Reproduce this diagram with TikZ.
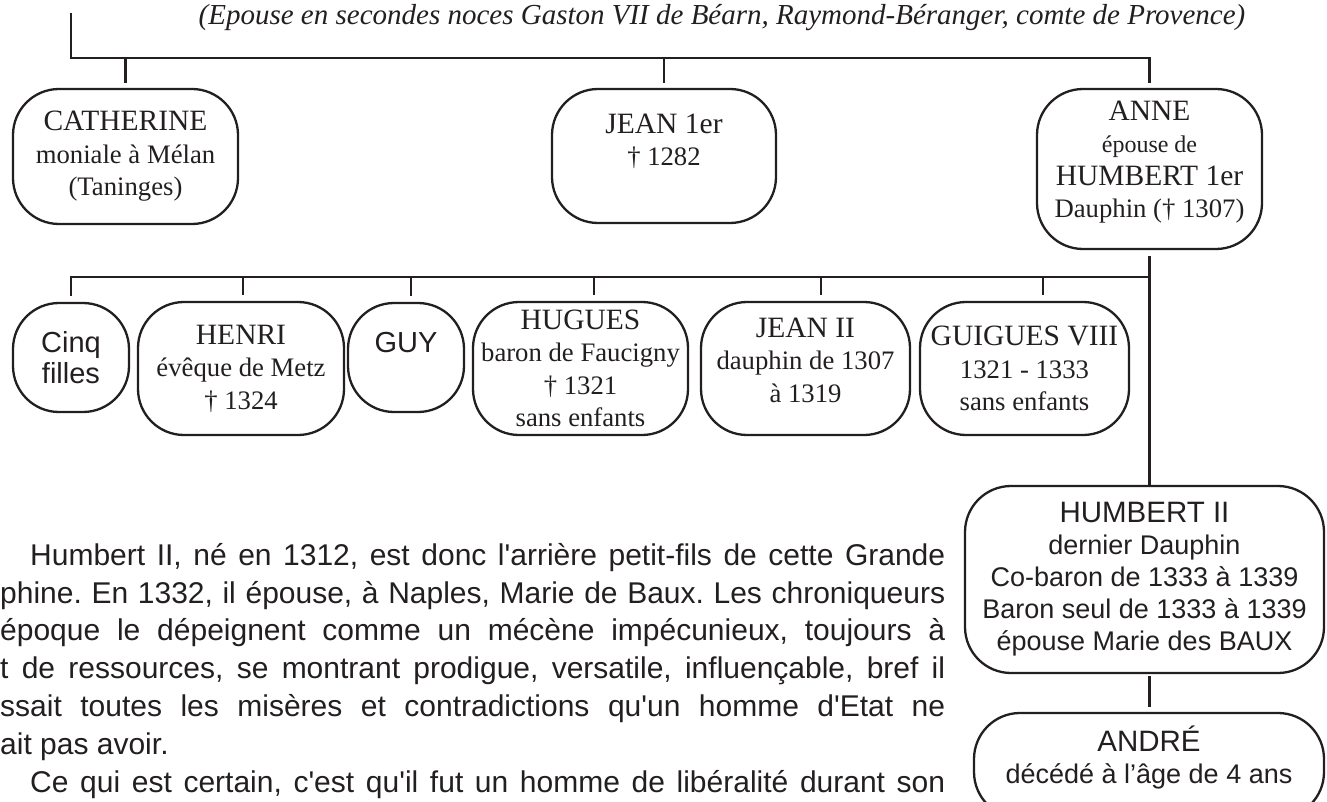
\documentclass[tikz,border=0pt]{standalone}
\usepackage{fontspec}
\setmainfont{Liberation Serif}
\setsansfont{Liberation Sans}
\definecolor{encre}{RGB}{35,31,32}
\newcommand{\titre}[1]{{\fontsize{29.5}{32.5}\selectfont #1}}
\newcommand{\apos}{\textquotesingle}

\begin{document}
\begin{tikzpicture}[x=1pt, y=-1pt,
                every node/.style={text=encre},
                boite/.style={draw=encre, line width=2.3pt, rounded corners=46pt, align=center, inner sep=0pt},
                serif/.style={font=\fontsize{26.7}{32.5}\selectfont},
                sans/.style={font=\sffamily\fontsize{27}{32}\selectfont},
                gros/.style={font=\sffamily\fontsize{29}{31}\selectfont},
                lien/.style={draw=encre, line width=2.3pt}]

                \useasboundingbox (0,0) rectangle (1327,802);

                % Mariage
                \node[font=\itshape\fontsize{29}{34}\selectfont, anchor=base] (noces) at (722,25) {(Epouse en secondes noces Gaston VII de Béarn, Raymond-Béranger, comte de Provence)};
                \coordinate (haut) at (71,13);
                \coordinate (b1) at (71,58);
                \coordinate (b2) at (71,277);

                % Premier rang
                \node[boite, serif, minimum width=225pt, minimum height=135pt] (catherine) at (125.5,156.5) {\titre{CATHERINE}\\moniale à Mélan\\(Taninges)};
                \node[boite, serif, minimum width=224pt, minimum height=134pt] (jean1) at (664,156) {\titre{JEAN 1er}\\† 1282\\\mbox{}};
                \node[boite, serif, minimum width=225pt, minimum height=160pt] (anne) at (1149.5,169) {\titre{ANNE}\\{\fontsize{24}{32.5}\selectfont épouse de}\\\titre{HUMBERT 1er}\\Dauphin († 1307)\\[-13pt]\mbox{}};

                % Second rang
                \node[boite, gros, minimum width=116pt, minimum height=109pt] (cinq) at (71,357.5) {Cinq\\filles};
                \node[boite, serif, minimum width=206pt, minimum height=133pt] (henri) at (241,368.5) {\titre{HENRI}\\évêque de Metz\\† 1324};
                \node[boite, gros, minimum width=116pt, minimum height=109pt] (guy) at (406,357.5) {GUY\\\mbox{}};
                \node[boite, serif, minimum width=215pt, minimum height=133pt] (hugues) at (580.5,368.5) {\titre{HUGUES}\\baron de Faucigny\\† 1321\\sans enfants};
                \node[boite, serif, minimum width=209pt, minimum height=133pt] (jean2) at (805.5,368.5) {\titre{JEAN II}\\dauphin de 1307\\à 1319\\[-15.5pt]\mbox{}};
                \node[boite, serif, minimum width=209pt, minimum height=133pt] (guigues) at (1024.5,368.5) {\titre{GUIGUES VIII}\\1321 - 1333\\sans enfants};

                % Descendance
                \node[boite, sans, minimum width=359pt, minimum height=187pt] (humbert2) at (1144.5,579.5) {\titre{HUMBERT II}\\dernier Dauphin\\Co-baron de 1333 à 1339\\Baron seul de 1333 à 1339\\épouse Marie des BAUX};
                \node[boite, sans, minimum width=350pt, minimum height=105pt] (andre) at (1149,765.5) {\titre{ANDRÉ}\\décédé à l’âge de 4 ans\\[-10pt]\mbox{}};

                % Texte
                \node[anchor=north west, text width=945pt, align=justify, inner sep=0pt, font=\sffamily\fontsize{30}{37.8}\selectfont] (recit) at (0,543) {\parindent=0pt\hyphenpenalty=10000\tolerance=9999\frenchspacing
                \hspace*{30pt}Humbert II, né en 1312, est donc l\apos arrière petit-fils de cette Grande\linebreak
                phine. En 1332, il épouse, à Naples, Marie de Baux. Les chroniqueurs\linebreak
                époque le dépeignent comme un mécène impécunieux, toujours à\linebreak
                t de ressources, se montrant prodigue, versatile, influençable, bref il\linebreak
                ssait toutes les misères et contradictions qu\apos un homme d\apos Etat ne\linebreak
                ait pas avoir.\par
                \hspace*{30pt}Ce qui est certain, c\apos est qu\apos il fut un homme de libéralité durant son{\parfillskip=0pt\par}};

                % Liens
                \draw[lien, shorten >=5pt] (haut) -- (b1) -| (anne.north);
                \draw[lien, shorten >=5pt] (catherine.north |- b1) -- (catherine.north);
                \draw[lien, shorten >=5pt] (jean1.north |- b1) -- (jean1.north);
                \draw[lien, shorten <=6pt] (anne.south) -- (anne.south |- humbert2.north);
                \draw[lien, shorten <=6pt] (cinq.north) -- (cinq.north |- b2) -- (anne.south |- b2);
                \foreach \n/\x in {henri/243, guy/411, hugues/594, jean2/821, guigues/1043}
                    \draw[lien, shorten >=6pt] (\x,277) -- (\x,277 |- \n.north);
                \draw[lien, shorten <=2pt, shorten >=5pt] (anne.south |- humbert2.south) -- (anne.south |- andre.north);
\end{tikzpicture}
\end{document}
